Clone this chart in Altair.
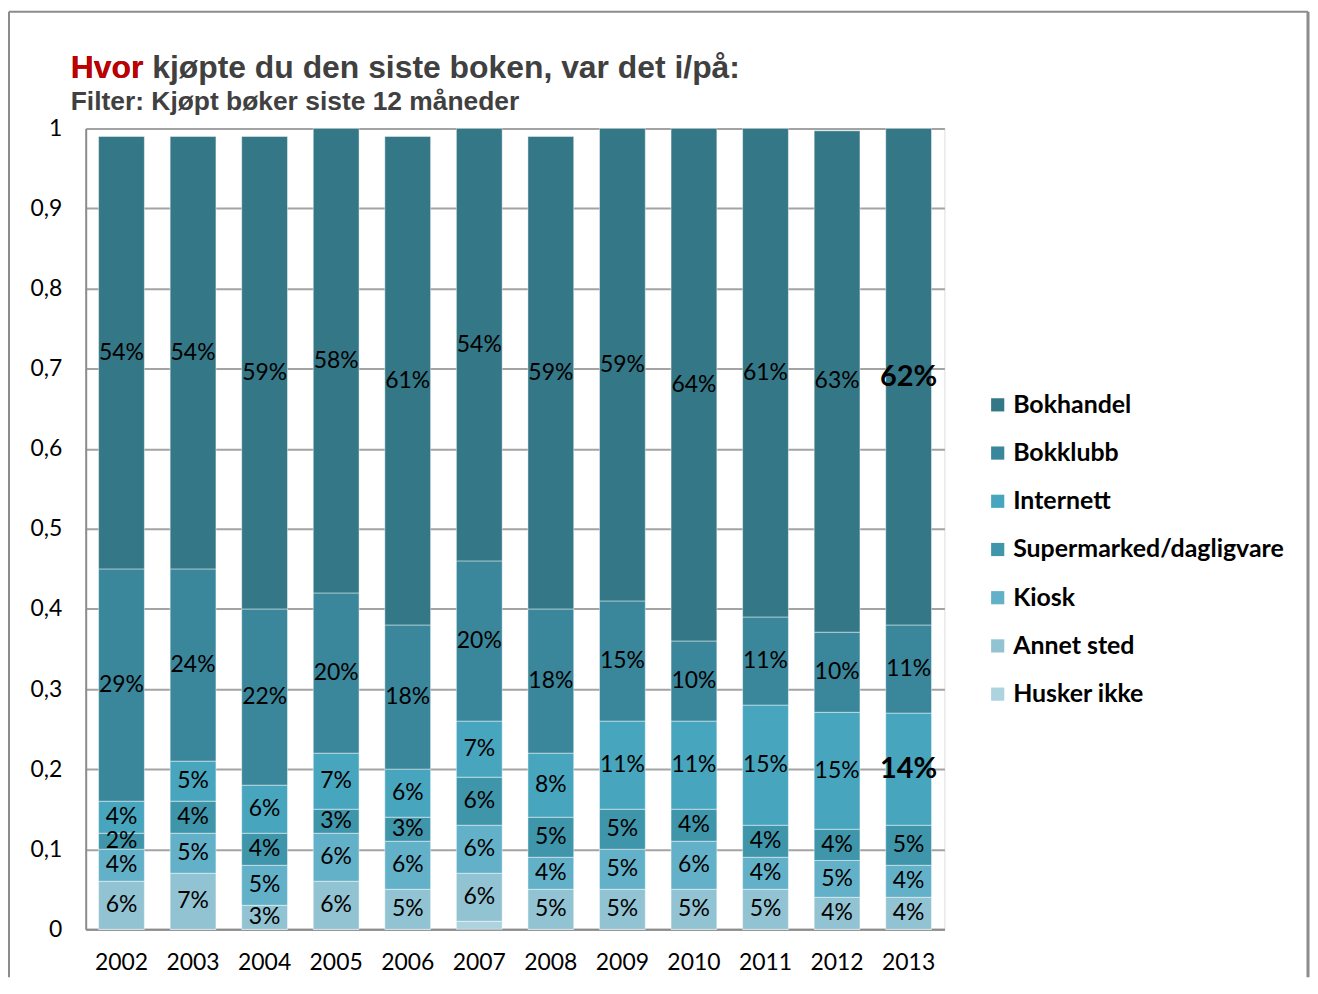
import altair as alt
import pandas as pd

years = ["2002", "2003", "2004", "2005", "2006", "2007", "2008", "2009", "2010", "2011", "2012", "2013"]

# stacked from the bottom up
categories = ["Husker ikke", "Annet sted", "Kiosk", "Supermarked/dagligvare", "Internett", "Bokklubb", "Bokhandel"]
husker_ikke = [0, 0, 0, 0, 0, 1, 0, 0, 0, 0, 0, 0]
annet_sted = [6, 7, 3, 6, 5, 6, 5, 5, 5, 5, 4, 4]
kiosk = [4, 5, 5, 6, 6, 6, 4, 5, 6, 4, 4.6, 4]
supermarked = [2, 4, 4, 3, 3, 6, 5, 5, 4, 4, 3.9, 5]
internett = [4, 5, 6, 7, 6, 7, 8, 11, 11, 15, 14.6, 14]
bokklubb = [29, 24, 22, 20, 18, 20, 18, 15, 10, 11, 10, 11]
bokhandel = [54, 54, 59, 58, 61, 54, 59, 59, 64, 61, 62.6, 62]
series = [husker_ikke, annet_sted, kiosk, supermarked, internett, bokklubb, bokhandel]

legend_order = ["Bokhandel", "Bokklubb", "Internett", "Supermarked/dagligvare", "Kiosk", "Annet sted", "Husker ikke"]
legend_colors = ["#347787", "#3A869B", "#47A5BE", "#3F95AA", "#63B1C8", "#92C3D3", "#ADD3DF"]

emphasized = [("2013", "Bokhandel"), ("2013", "Internett")]

y_ticks = [0, 0.1, 0.2, 0.3, 0.4, 0.5, 0.6, 0.7, 0.8, 0.9, 1]

title_main = "Hvor kjøpte du den siste boken, var det i/på:"
title_red = "Hvor"
subtitle = "Filter: Kjøpt bøker siste 12 måneder"

rows = []
for rank, (cat, vals) in enumerate(zip(categories, series)):
    for yr, v in zip(years, vals):
        rows.append({
            "year": yr,
            "category": cat,
            "rank": rank,
            "value": v / 100.0,
            "emph": (yr, cat) in emphasized,
        })
df = pd.DataFrame(rows)

base = alt.Chart(df).transform_stack(
    stack="value",
    groupby=["year"],
    as_=["y0", "y1"],
    sort=[alt.SortField("rank", order="ascending")],
)

x_enc = alt.X(
    "year:N",
    title=None,
    scale=alt.Scale(paddingInner=0.36, paddingOuter=0.18),
    axis=alt.Axis(
        labelAngle=0,
        ticks=False,
        labelPadding=22,
        labelFont="Lato",
        labelFontSize=23,
        labelColor="black",
        domainColor="#8C8C8C",
        domainWidth=2,
    ),
)

y_scale = alt.Scale(domain=[0, 1], nice=False)

bars = base.mark_bar(stroke="white", strokeWidth=1, strokeOpacity=0.45).encode(
    x=x_enc,
    y=alt.Y(
        "y0:Q",
        title=None,
        scale=y_scale,
        axis=alt.Axis(
            values=y_ticks,
            ticks=False,
            labelPadding=24,
            labelFont="Lato",
            labelFontSize=23,
            labelColor="black",
            labelExpr="replace(format(datum.value, '.1~f'), '.', ',')",
            domainColor="#8C8C8C",
            domainWidth=2,
            grid=True,
            gridColor="#A3A3A3",
            gridWidth=2,
        ),
    ),
    y2="y1:Q",
    color=alt.Color(
        "category:N",
        scale=alt.Scale(domain=legend_order, range=legend_colors),
        legend=alt.Legend(
            title=None,
            orient="none",
            legendX=903,
            legendY=265,
            symbolType="square",
            symbolSize=175,
            symbolStrokeWidth=0,
            labelFont="Lato",
            labelFontSize=25,
            labelFontWeight="bold",
            labelColor="black",
            labelOffset=3,
            labelLimit=0,
            rowPadding=22.4,
            padding=0,
        ),
    ),
    order=alt.Order("rank:Q"),
)

labels_src = base.transform_calculate(mid="(datum.y0 + datum.y1) / 2").transform_filter(
    "datum.value >= 0.015"
)

labels = labels_src.transform_filter("!datum.emph").mark_text(
    font="Lato", fontSize=23, color="black", baseline="middle"
).encode(
    x=alt.X("year:N"),
    y=alt.Y("mid:Q", scale=y_scale),
    text=alt.Text("value:Q", format=".0%"),
)

labels_bold = labels_src.transform_filter("datum.emph").mark_text(
    font="Lato", fontSize=29, fontWeight="bold", color="black", baseline="middle"
).encode(
    x=alt.X("year:N"),
    y=alt.Y("mid:Q", scale=y_scale),
    text=alt.Text("value:Q", format=".0%"),
)

one = alt.Chart(pd.DataFrame({"t": [title_main]}))

frame_left = one.mark_rule(color="#8C8C8C", strokeWidth=2).encode(
    x=alt.value(-77), y=alt.value(-117), y2=alt.value(852)
)
frame_top = one.mark_rule(color="#8C8C8C", strokeWidth=2).encode(
    x=alt.value(-77), x2=alt.value(1227), y=alt.value(-117)
)
frame_right = one.mark_rule(color="#8C8C8C", strokeWidth=3).encode(
    x=alt.value(1227), y=alt.value(-117), y2=alt.value(852)
)

title_gray = one.mark_text(
    font="Liberation Sans", fontSize=32, fontWeight="bold", color="#404040",
    align="left", baseline="alphabetic",
).encode(x=alt.value(-15), y=alt.value(-51), text=alt.value(title_main))

title_r = one.mark_text(
    font="Liberation Sans", fontSize=32, fontWeight="bold", color="#C00000",
    align="left", baseline="alphabetic",
).encode(x=alt.value(-15), y=alt.value(-51), text=alt.value(title_red))

sub = one.mark_text(
    font="Liberation Sans", fontSize=26.5, fontWeight="bold", color="#404040",
    align="left", baseline="alphabetic",
).encode(x=alt.value(-15), y=alt.value(-18), text=alt.value(subtitle))

chart = alt.layer(
    bars, labels, labels_bold, frame_left, frame_top, frame_right, title_gray, title_r, sub
).properties(
    width=862, height=804, padding=0
).configure_view(stroke=None).configure(background="white")

chart.save("out.html", embed_options={"renderer": "svg", "actions": False})
